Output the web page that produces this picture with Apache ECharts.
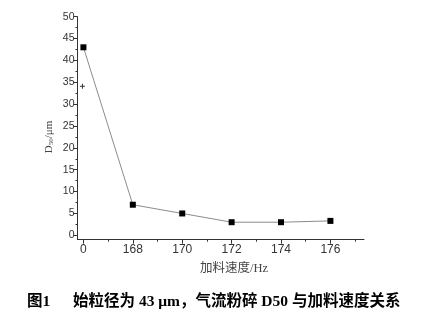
<!DOCTYPE html>
<html>
<head>
<meta charset="utf-8">
<script src="https://cdn.jsdelivr.net/npm/echarts@6/dist/echarts.min.js"></script>
<style>html,body{margin:0;padding:0;background:#fff;}#c{width:423px;height:316px;}</style>
</head>
<body>
<div id="c"></div>
<script>
// Data
const xLabels = ['0', '168', '170', '172', '174', '176'];
const d50 = [43, 7, 5, 3, 3, 3.3];
const yTickValues = [0, 5, 10, 15, 20, 25, 30, 35, 40, 45, 50];
const yMinorValues = [2.5, 7.5, 12.5, 17.5, 22.5, 27.5, 32.5, 37.5, 42.5, 47.5];
const xMinorValues = [0.5, 1.5, 2.5, 3.5, 4.5, 5.5];
const strayMark = [[-0.02, 34.1]];

const xIdx = xLabels.map((_, i) => i);
const lineData = d50.map((v, i) => [i, v]);

const chart = echarts.init(document.getElementById('c'), null, {renderer: 'canvas'});
const axisColor = '#333';
const labelFont = 'Liberation Sans, Arial, sans-serif';
const serif = '"Liberation Serif", "Times New Roman", "Noto Sans CJK SC", serif';

chart.setOption({
  animation: false,
  backgroundColor: '#fff',
  grid: {left: 77.5, right: 59, top: 16.7, bottom: 76.3},
  xAxis: [{
    type: 'value', min: -0.12, max: 5.68,
    axisLine: {show: true, onZero: false, lineStyle: {color: axisColor, width: 1}},
    axisTick: {show: true, inside: false, length: 4, customValues: xIdx, lineStyle: {color: axisColor}},
    axisLabel: {customValues: xIdx, formatter: v => xLabels[Math.round(v)], color: '#333', fontSize: 12, fontFamily: labelFont, margin: 4},
    splitLine: {show: false}
  }, {
    type: 'value', min: -0.12, max: 5.68, position: 'bottom',
    axisLine: {show: false, onZero: false},
    axisTick: {show: true, inside: false, length: 2, customValues: xMinorValues, lineStyle: {color: axisColor}},
    axisLabel: {show: false},
    splitLine: {show: false}
  }],
  yAxis: [{
    type: 'value', min: -1, max: 50, position: 'left',
    axisLine: {show: true, onZero: false, lineStyle: {color: axisColor, width: 1}},
    axisTick: {show: true, inside: false, length: 4, customValues: yTickValues, lineStyle: {color: axisColor}},
    axisLabel: {customValues: yTickValues, color: '#333', fontSize: 10.5, fontFamily: labelFont, margin: 3},
    splitLine: {show: false}
  }, {
    type: 'value', min: -1, max: 50, position: 'left', offset: 0,
    axisLine: {show: false, onZero: false},
    axisTick: {show: true, inside: false, length: 2, customValues: yMinorValues, lineStyle: {color: axisColor}},
    axisLabel: {show: false},
    splitLine: {show: false}
  }],
  graphic: [{
    type: 'text', x: 48, y: 137, rotation: Math.PI / 2,
    style: {
      text: '{a|D}{b|50}{a|/μm}', textAlign: 'center', textVerticalAlign: 'middle',
      rich: {
        a: {fontSize: 11, fontFamily: serif, fill: '#444', lineHeight: 14, verticalAlign: 'bottom'},
        b: {fontSize: 7, fontFamily: serif, fill: '#444', lineHeight: 6, verticalAlign: 'bottom'}
      }
    }
  }, {
    type: 'text', left: 200, top: 262,
    style: {text: '加料速度/Hz', font: '12.5px ' + serif, fill: '#444'}
  }, {
    type: 'text', left: 27, top: 294,
    style: {text: '图1', font: 'bold 15.5px ' + serif, fill: '#000'}
  }, {
    type: 'text', left: 73, top: 294,
    style: {text: '始粒径为 43 μm，气流粉碎 D50 与加料速度关系', font: 'bold 15.5px ' + serif, fill: '#000'}
  }],
  series: [{
    type: 'line', data: lineData, xAxisIndex: 0, yAxisIndex: 0,
    symbol: 'rect', symbolSize: 6,
    itemStyle: {color: '#000'},
    lineStyle: {color: '#8c8c8c', width: 1}
  }, {
    type: 'scatter', data: strayMark, xAxisIndex: 0, yAxisIndex: 0,
    symbol: 'path://M2,0H3V2H5V3H3V5H2V3H0V2H2Z', symbolSize: 5,
    itemStyle: {color: '#000'}
  }]
});
</script>
</body>
</html>
